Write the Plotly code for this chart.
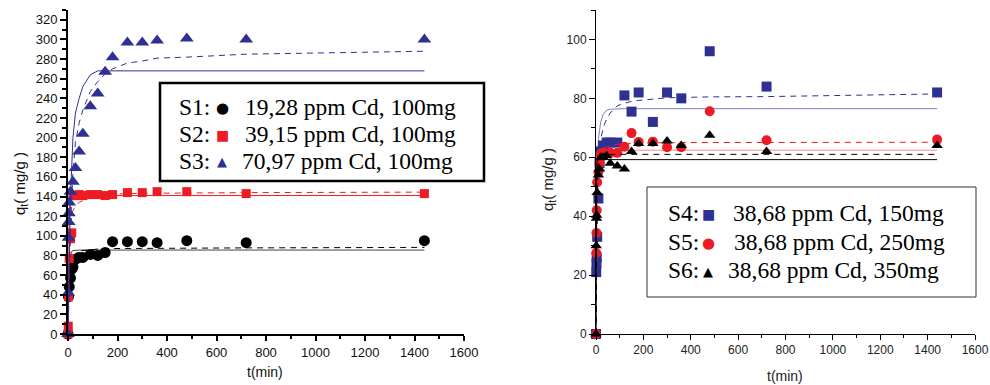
import plotly.graph_objects as go

W, H = 990, 385

# ---------------- Left panel data ----------------
t1 = [0, 2, 5, 10, 15, 20, 30, 45, 60, 90, 120, 150, 180, 240, 300, 360, 480, 720, 1440]
q1 = [0, 38, 48, 57, 66, 68, 76, 78, 78, 81, 80, 83, 94, 94, 94, 93, 95, 93, 95]
q1_pfo = [0, 40, 66, 80, 84, 85, 85.5, 85.5, 85.5, 85.5, 85.5, 85.5, 85.5, 85.5, 85.5, 85.5, 85.5, 85.5, 85.5]
q1_pso = [0, 28, 52, 68, 75, 78, 82, 84, 85, 86, 86.5, 87, 87, 87.3, 87.5, 87.5, 87.6, 87.7, 88.2]

t2 = [0, 1, 2, 5, 10, 15, 20, 30, 45, 60, 90, 120, 150, 180, 240, 300, 360, 480, 720, 1440]
q2 = [0, 8, 38, 77, 97, 103, 141, 141, 142, 141, 142, 142, 141, 142, 144, 144, 145, 145, 143, 143]
q2_pfo = [0, 40, 75, 125, 138, 140.5, 141, 141, 141, 141, 141, 141, 141, 141, 141, 141, 141, 141, 141, 141]
q2_pso = [0, 20, 40, 80, 108, 122, 126, 130, 134, 136, 139, 141, 142, 142.5, 143, 143.3, 143.5, 143.7, 144, 144.5]

t3 = [0, 1, 2, 3, 4, 5, 10, 20, 30, 45, 60, 90, 120, 150, 180, 240, 300, 360, 480, 720, 1440]
q3 = [0, 42, 98, 114, 123, 134, 145, 155, 169, 186, 204, 232, 245, 267, 282, 297, 297, 299, 301, 300, 300]
q3_pfo = [0, 20, 40, 55, 70, 85, 140, 200, 225, 240, 252, 264, 268, 268, 268, 268, 268, 268, 268, 268, 268]
q3_pso = [0, 15, 30, 42, 55, 65, 110, 165, 195, 215, 228, 247, 257, 265, 270, 276, 278, 281, 282, 285, 288]

# ---------------- Right panel data ----------------
t4 = [0, 1, 2, 3, 5, 10, 15, 20, 30, 45, 60, 90, 120, 150, 180, 240, 300, 360, 480, 720, 1440]
q4 = [0, 21, 24, 26, 33, 46, 58, 62, 64, 65, 65, 65, 81, 75.5, 82, 72, 82, 80, 96, 84, 82]
q4_pfo = [0, 18, 32, 42, 55, 66, 70, 72, 74.5, 76, 76.3, 76.5, 76.5, 76.5, 76.5, 76.5, 76.5, 76.5, 76.5, 76.5, 76.5]
q4_pso = [0, 12, 22, 30, 42, 56, 62, 66, 70, 73, 75, 77.5, 78.3, 79, 79.3, 79.8, 80.2, 80.3, 80.5, 80.6, 81.5]

t5 = [0, 1, 2, 3, 5, 10, 15, 20, 30, 60, 90, 120, 150, 180, 240, 300, 360, 480, 720, 1440]
q5 = [0, 27.5, 34.3, 42, 51.5, 55, 58, 61, 61.5, 61.5, 61.5, 63.6, 68.2, 65.2, 65.3, 63.4, 63.4, 75.6, 65.8, 66]
q5_pfo = [0, 35, 52, 58, 61.5, 62.4, 62.4, 62.4, 62.4, 62.4, 62.4, 62.4, 62.4, 62.4, 62.4, 62.4, 62.4, 62.4, 62.4, 62.4]
q5_pso = [0, 22, 36, 44, 52, 58.5, 60.5, 61.8, 63, 64, 64.4, 64.6, 64.7, 64.8, 64.9, 65, 65, 65, 65, 65.1]

t6 = [0, 1, 2, 3, 5, 10, 15, 20, 30, 45, 60, 90, 120, 150, 180, 240, 300, 360, 480, 720, 1440]
q6 = [0, 30, 39.3, 40.3, 48, 54, 56, 60, 60, 60.5, 58, 57, 56, 62, 64.7, 64.7, 65.5, 64, 67.5, 62, 64]
q6_pfo = [0, 38, 52, 57, 59, 59.2, 59.2, 59.2, 59.2, 59.2, 59.2, 59.2, 59.2, 59.2, 59.2, 59.2, 59.2, 59.2, 59.2, 59.2, 59.2]
q6_pso = [0, 25, 40, 48, 54, 58.5, 59.8, 60.3, 60.6, 60.8, 60.9, 61, 61, 61, 61, 61, 61, 61, 61, 61, 61]

legend_left = [
    ("S1:", "●", "#000000", "19,28 ppm Cd, 100mg"),
    ("S2:", "■", "#ED1C24", "39,15 ppm Cd, 100mg"),
    ("S3:", "▲", "#2E3192", "70,97 ppm Cd, 100mg"),
]
legend_right = [
    ("S4:", "■", "#2E3192", "38,68 ppm Cd, 150mg"),
    ("S5:", "●", "#ED1C24", "38,68 ppm Cd, 250mg"),
    ("S6:", "▲", "#000000", "38,68 ppm Cd, 350mg"),
]

BLUE = "#2E3192"
RED = "#ED1C24"
BLACK = "#000000"

fig = go.Figure()


def add_series(t, q, pfo, pso, color, symbol, size, xa, ya, solid_color=None, dash_color=None):
    fig.add_trace(go.Scatter(x=t, y=pfo, mode="lines", xaxis=xa, yaxis=ya,
                             line=dict(color=solid_color or color, width=1), showlegend=False,
                             cliponaxis=False))
    fig.add_trace(go.Scatter(x=t, y=pso, mode="lines", xaxis=xa, yaxis=ya,
                             line=dict(color=dash_color or color, width=1, dash="6px,5px"),
                             showlegend=False, cliponaxis=False))
    fig.add_trace(go.Scatter(x=t, y=q, mode="markers", xaxis=xa, yaxis=ya,
                             marker=dict(color=color, symbol=symbol, size=size, line=dict(width=0)),
                             showlegend=False, cliponaxis=False))


add_series(t1, q1, q1_pfo, q1_pso, BLACK, "circle", 11, "x", "y", solid_color="#444444")
add_series(t2, q2, q2_pfo, q2_pso, RED, "square", 9, "x", "y")
add_series(t3, q3, q3_pfo, q3_pso, BLUE, "triangle-up", 12, "x", "y")

add_series(t4, q4, q4_pfo, q4_pso, BLUE, "square", 10, "x2", "y2", solid_color="#7A80C0")
add_series(t5, q5, q5_pfo, q5_pso, RED, "circle", 10, "x2", "y2", solid_color="#F28C8C")
add_series(t6, q6, q6_pfo, q6_pso, BLACK, "triangle-up", 10, "x2", "y2")


def px_x(p):
    return p / W


def px_y(p):
    return 1 - p / H


tickfont_l = dict(family="Liberation Sans, Arial", size=13, color="#111111")
tickfont_r = dict(family="Liberation Sans, Arial", size=12, color="#222222")

yb, yt = px_y(334), px_y(10)

fig.update_layout(
    width=W, height=H,
    margin=dict(l=0, r=0, t=0, b=0, autoexpand=False),
    paper_bgcolor="white", plot_bgcolor="white",
    xaxis=dict(domain=[px_x(68), px_x(464)], range=[0, 1600], anchor="y", automargin=False,
               showline=True, linecolor="black", linewidth=2, ticks="outside", ticklen=5,
               tickwidth=2, tickcolor="black", dtick=200, tick0=0, showgrid=False, zeroline=False,
               tickfont=tickfont_l,
               minor=dict(dtick=100, ticks="outside", ticklen=3, tickwidth=1.5, tickcolor="black")),
    yaxis=dict(domain=[yb, yt], range=[0, 330], anchor="x", automargin=False,
               showline=True, linecolor="black", linewidth=2, ticks="outside", ticklen=6,
               tickwidth=2, tickcolor="black", showgrid=False, zeroline=False,
               tickfont=tickfont_l, tickvals=list(range(0, 321, 20)),
               minor=dict(tickvals=list(range(10, 331, 20)), ticks="outside", ticklen=4,
                          tickwidth=1.5, tickcolor="black")),
    xaxis2=dict(domain=[px_x(596), px_x(975)], range=[0, 1600], anchor="y2", automargin=False,
                showline=True, linecolor="black", linewidth=1, ticks="outside", ticklen=5,
                tickwidth=1, tickcolor="black", dtick=200, tick0=0, showgrid=False, zeroline=False,
                tickfont=tickfont_r,
                minor=dict(dtick=100, ticks="outside", ticklen=3, tickwidth=1, tickcolor="black")),
    yaxis2=dict(domain=[yb, yt], range=[0, 110], anchor="x2", automargin=False,
                showline=True, linecolor="black", linewidth=1, ticks="outside", ticklen=6,
                tickwidth=1, tickcolor="black", showgrid=False, zeroline=False,
                tickfont=tickfont_r, tickvals=list(range(0, 101, 20)),
                minor=dict(tickvals=list(range(10, 111, 20)), ticks="outside", ticklen=4,
                           tickwidth=1, tickcolor="black")),
)

# legend boxes
fig.add_shape(type="rect", xref="paper", yref="paper",
              x0=px_x(160), x1=px_x(484), y0=px_y(181), y1=px_y(83),
              line=dict(color="black", width=2.5), fillcolor="white", layer="above")
fig.add_shape(type="rect", xref="paper", yref="paper",
              x0=px_x(647), x1=px_x(976), y0=px_y(297), y1=px_y(187),
              line=dict(color="#333333", width=1), fillcolor="white", layer="above")

serif = "Liberation Serif, Times New Roman, serif"
ann = []


def legend_rows(rows, x_lab, x_sym, x_txt, ys, fsize):
    for (lab, sym, col, txt), y in zip(rows, ys):
        ann.append(dict(x=px_x(x_lab), y=px_y(y), xref="paper", yref="paper", text=lab,
                        showarrow=False, xanchor="left", yanchor="middle",
                        font=dict(family=serif, size=fsize, color="black")))
        ssize = 13 if sym == "▲" else (14 if sym == "■" else 15)
        ann.append(dict(x=px_x(x_sym), y=px_y(y + 1), xref="paper", yref="paper", text=sym,
                        showarrow=False, xanchor="center", yanchor="middle",
                        font=dict(family="DejaVu Sans", size=ssize, color=col)))
        ann.append(dict(x=px_x(x_txt[lab]), y=px_y(y), xref="paper", yref="paper", text=txt,
                        showarrow=False, xanchor="left", yanchor="middle",
                        font=dict(family=serif, size=fsize, color="black")))


legend_rows(legend_left, 177, 222, {"S1:": 243, "S2:": 243, "S3:": 240}, [107, 134, 161], 23.5)
legend_rows(legend_right, 666, 708, {"S4:": 731, "S5:": 732, "S6:": 726}, [213, 242, 270], 23.5)

# axis titles
ann.append(dict(x=px_x(21), y=px_y(184), xref="paper", yref="paper",
                text="q<sub>t</sub>( mg/g )", textangle=-90, showarrow=False,
                xanchor="center", yanchor="middle",
                font=dict(family="Liberation Sans, Arial", size=15, color="#111111")))
ann.append(dict(x=px_x(549), y=px_y(180), xref="paper", yref="paper",
                text="q<sub>t</sub>( mg/g )", textangle=-90, showarrow=False,
                xanchor="center", yanchor="middle",
                font=dict(family="Liberation Sans, Arial", size=15, color="#222222")))
ann.append(dict(x=px_x(265), y=px_y(372), xref="paper", yref="paper",
                text="t(min)", showarrow=False, xanchor="center", yanchor="middle",
                font=dict(family="Liberation Sans, Arial", size=14, color="#111111")))
ann.append(dict(x=px_x(785), y=px_y(376), xref="paper", yref="paper",
                text="t(min)", showarrow=False, xanchor="center", yanchor="middle",
                font=dict(family="Liberation Sans, Arial", size=14, color="#222222")))

fig.update_layout(annotations=ann)

fig.write_html("out.html", config={"displayModeBar": False},
               post_script="document.body.style.margin='0px';document.body.style.overflow='hidden';")
